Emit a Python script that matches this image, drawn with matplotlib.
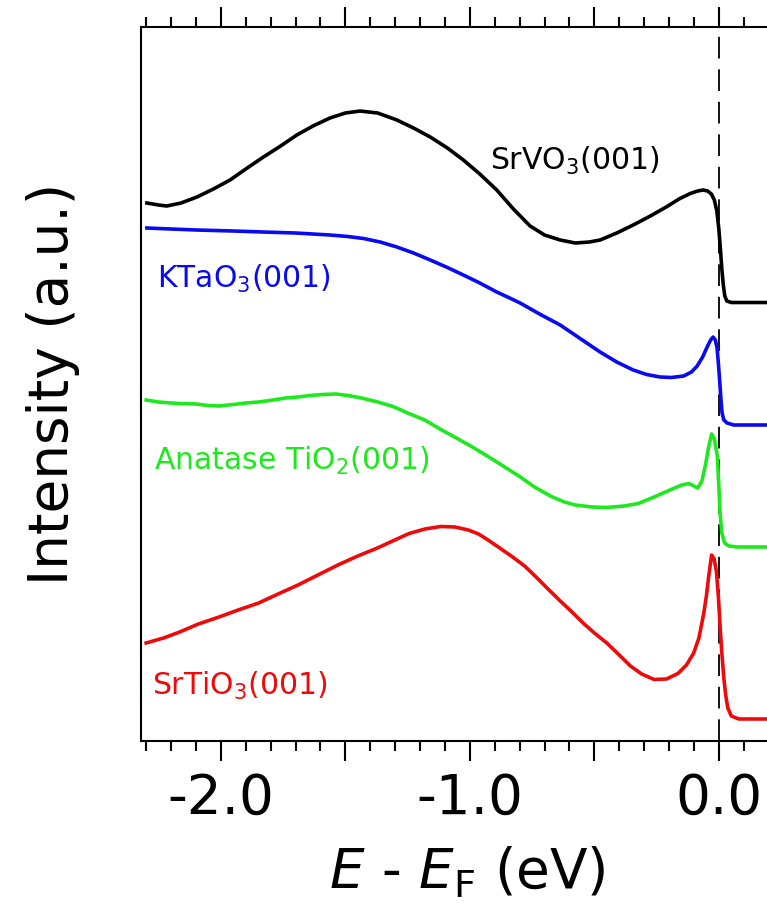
import numpy as np
import matplotlib
matplotlib.use("Agg")
import matplotlib.pyplot as plt
from matplotlib.ticker import MultipleLocator, FuncFormatter

# Spectres (E - EF en eV, intensité en u.a. avec décalage)
E_srvo3 = [-2.297, -2.25, -2.217, -2.16, -2.096, -2.03, -1.963, -1.90, -1.829, -1.76,
           -1.695, -1.63, -1.562, -1.50, -1.441, -1.37, -1.293, -1.226, -1.159, -1.09,
           -1.026, -0.96, -0.892, -0.825, -0.758, -0.70, -0.637, -0.577, -0.52, -0.477,
           -0.41, -0.344, -0.275, -0.208, -0.16, -0.115, -0.085, -0.063, -0.045, -0.030,
           -0.018, -0.008, 0.000, 0.006, 0.012, 0.018, 0.024, 0.032, 0.05, 0.30]
I_srvo3 = [5.38, 5.36, 5.35, 5.38, 5.44, 5.52, 5.61, 5.72, 5.84, 5.95,
           6.06, 6.15, 6.23, 6.28, 6.30, 6.28, 6.21, 6.13, 6.04, 5.93,
           5.81, 5.67, 5.51, 5.32, 5.15, 5.06, 5.01, 4.98, 4.99, 5.01,
           5.08, 5.16, 5.25, 5.345, 5.42, 5.475, 5.50, 5.51, 5.50, 5.47,
           5.41, 5.30, 5.12, 4.93, 4.72, 4.56, 4.45, 4.40, 4.385, 4.385]

E_ktao3 = [-2.297, -2.2, -2.096, -1.95, -1.829, -1.70, -1.561, -1.49, -1.427, -1.36,
           -1.293, -1.226, -1.159, -1.09, -1.026, -0.96, -0.892, -0.84, -0.798, -0.72,
           -0.637, -0.56, -0.477, -0.41, -0.344, -0.29, -0.236, -0.19, -0.141, -0.11,
           -0.087, -0.065, -0.047, -0.033, -0.023, -0.014, -0.007, -0.001, 0.004, 0.009,
           0.013, 0.020, 0.033, 0.06, 0.30]
I_ktao3 = [5.13, 5.12, 5.11, 5.10, 5.09, 5.08, 5.06, 5.045, 5.025, 4.99,
           4.94, 4.88, 4.81, 4.735, 4.66, 4.58, 4.49, 4.43, 4.38, 4.27,
           4.16, 4.03, 3.89, 3.79, 3.71, 3.665, 3.64, 3.635, 3.65, 3.69,
           3.75, 3.84, 3.94, 4.01, 4.04, 4.01, 3.93, 3.75, 3.58, 3.40,
           3.28, 3.21, 3.18, 3.16, 3.16]

E_tio2 = [-2.30, -2.25, -2.20, -2.165, -2.10, -2.05, -2.007, -1.95, -1.90, -1.848,
          -1.79, -1.74, -1.69, -1.64, -1.59, -1.538, -1.49, -1.435, -1.37, -1.308,
          -1.25, -1.181, -1.12, -1.054, -0.99, -0.927, -0.86, -0.80, -0.74, -0.673,
          -0.62, -0.577, -0.51, -0.45, -0.38, -0.323, -0.26, -0.196, -0.149, -0.12,
          -0.10, -0.085, -0.068, -0.053, -0.040, -0.029, -0.018, -0.006, 0.000, 0.005,
          0.012, 0.023, 0.04, 0.073, 0.30]
I_tio2 = [3.41, 3.39, 3.38, 3.375, 3.37, 3.355, 3.35, 3.365, 3.38, 3.39,
          3.41, 3.43, 3.44, 3.455, 3.465, 3.47, 3.455, 3.43, 3.39, 3.345,
          3.28, 3.21, 3.12, 3.03, 2.94, 2.845, 2.74, 2.645, 2.54, 2.445,
          2.39, 2.36, 2.34, 2.335, 2.35, 2.375, 2.44, 2.51, 2.56, 2.575,
          2.55, 2.53, 2.60, 2.77, 2.95, 3.07, 3.02, 2.85, 2.55, 2.28,
          2.08, 1.98, 1.95, 1.94, 1.94]

E_srtio3 = [-2.30, -2.23, -2.165, -2.09, -2.007, -1.93, -1.848, -1.77, -1.69, -1.61,
            -1.53, -1.45, -1.371, -1.31, -1.244, -1.18, -1.117, -1.06, -1.006, -0.965,
            -0.927, -0.88, -0.831, -0.78, -0.736, -0.69, -0.641, -0.59, -0.545, -0.50,
            -0.45, -0.40, -0.355, -0.31, -0.26, -0.21, -0.164, -0.13, -0.101, -0.08,
            -0.061, -0.050, -0.040, -0.029, -0.019, -0.010, -0.002, 0.005, 0.012, 0.020,
            0.028, 0.036, 0.050, 0.08, 0.30]
I_srtio3 = [0.98, 1.03, 1.09, 1.17, 1.24, 1.31, 1.38, 1.47, 1.56, 1.66,
            1.76, 1.85, 1.93, 2.00, 2.075, 2.12, 2.145, 2.14, 2.11, 2.07,
            2.01, 1.93, 1.845, 1.75, 1.645, 1.53, 1.41, 1.29, 1.18, 1.08,
            0.98, 0.86, 0.75, 0.67, 0.615, 0.62, 0.675, 0.76, 0.88, 1.03,
            1.27, 1.45, 1.66, 1.86, 1.82, 1.70, 1.45, 1.15, 0.88, 0.63,
            0.45, 0.33, 0.25, 0.22, 0.22]

noms = [r'SrVO$_3$(001)', r'KTaO$_3$(001)', r'Anatase TiO$_2$(001)', r'SrTiO$_3$(001)']
couleurs = ['#000000', '#0a0aee', '#1ee81e', '#ee0a0a']

fig = plt.figure(figsize=(7.67, 9.23), dpi=100)
# l'axe déborde à droite, comme sur la figure d'origine (coupée)
ax = fig.add_axes([0.1834, 0.1972, 0.8512, 0.7732])

# ligne du niveau de Fermi
ax.axvline(0, color='k', lw=1.3, ls=(0, (12, 6)), zorder=1)

ax.plot(E_srvo3, I_srvo3, color=couleurs[0], lw=2.6, zorder=3)
ax.plot(E_ktao3, I_ktao3, color=couleurs[1], lw=2.6, zorder=3)
ax.plot(E_tio2, I_tio2, color=couleurs[2], lw=2.6, zorder=3)
ax.plot(E_srtio3, I_srtio3, color=couleurs[3], lw=2.6, zorder=3)

# étiquettes des courbes
ax.text(-0.918, 5.71, noms[0], color=couleurs[0], fontsize=21.5)
ax.text(-2.256, 4.53, noms[1], color=couleurs[1], fontsize=21.5)
ax.text(-2.268, 2.71, noms[2], color=couleurs[2], fontsize=21.5)
ax.text(-2.276, 0.46, noms[3], color=couleurs[3], fontsize=21.5)

ax.set_xlim(-2.322, 0.30)
ax.set_ylim(0, 7.137)

ax.xaxis.set_major_locator(MultipleLocator(0.5))
ax.xaxis.set_minor_locator(MultipleLocator(0.1))
ax.xaxis.set_major_formatter(FuncFormatter(lambda v, p: '%.1f' % v if abs(v - round(v)) < 1e-6 else ''))
ax.tick_params(axis='x', which='both', direction='out', top=True, bottom=True, width=1.5,
               labelsize=39.5, pad=8)
ax.tick_params(axis='x', which='major', length=14.4)
ax.tick_params(axis='x', which='minor', length=7.2)
ax.tick_params(axis='y', which='both', left=False, right=False, labelleft=False)

for s in ax.spines.values():
    s.set_linewidth(1.5)

ax.set_xlabel(r'$E$ - $E_\mathrm{F}$ (eV)', fontsize=39.5, labelpad=14)
ax.set_ylabel('Intensity (a.u.)', fontsize=39.5, labelpad=44)

fig.savefig('out.png', dpi=100)
